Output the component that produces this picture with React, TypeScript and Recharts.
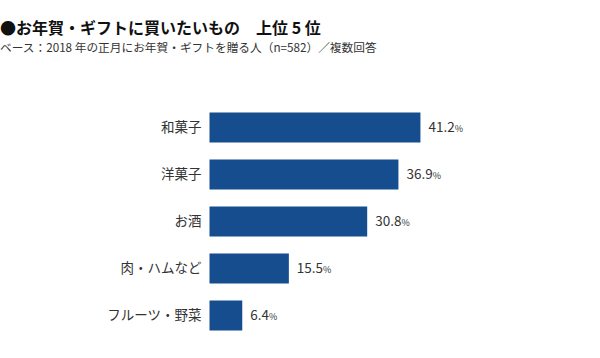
import { BarChart, Bar, XAxis, YAxis, LabelList } from "recharts";

const categories = ["和菓子", "洋菓子", "お酒", "肉・ハムなど", "フルーツ・野菜"];
const shares = [41.2, 36.9, 30.8, 15.5, 6.4];

const title = "●お年賀・ギフトに買いたいもの　上位 5 位";
const subtitle = "ベース：2018 年の正月にお年賀・ギフトを贈る人（n=582）／複数回答";

const data = categories.map((name, i) => ({ name, value: shares[i] }));

const FONT = '"Noto Sans CJK JP", "Noto Sans", sans-serif';

// value + small percent sign to the right of each bar
const ValueLabel = (props: any) => {
  const { x, y, width, height, value } = props;
  return (
    <text
      x={x + width + 8}
      y={y + height / 2}
      dy="0.35em"
      fontFamily={FONT}
      fontSize={13.5}
      fill="#333"
    >
      {value.toFixed(1)}
      <tspan fontSize={9}>%</tspan>
    </text>
  );
};

export default function App() {
  return (
    <div
      style={{
        position: "absolute",
        left: 0,
        top: 0,
        width: 600,
        height: 358,
        background: "#fff",
        fontFamily: FONT,
      }}
    >
      <div
        style={{
          position: "absolute",
          left: 0,
          top: 20,
          fontSize: 16,
          fontWeight: 700,
          color: "#111",
          whiteSpace: "nowrap",
          lineHeight: "14px",
        }}
      >
        {title}
      </div>
      <div
        style={{
          position: "absolute",
          left: 0,
          top: 41,
          fontSize: 11.7,
          color: "#333",
          whiteSpace: "nowrap",
          lineHeight: "12px",
        }}
      >
        {subtitle}
      </div>
      <BarChart
        width={600}
        height={358}
        data={data}
        layout="vertical"
        margin={{ top: 103.5, right: 134.5, bottom: 19.5, left: 0 }}
        barSize={30}
        style={{ position: "absolute", left: 0, top: 0 }}
      >
        <XAxis type="number" domain={[0, 50]} hide />
        <YAxis
          type="category"
          dataKey="name"
          width={209.5}
          axisLine={false}
          tickLine={false}
          tick={{ fontSize: 13.5, fill: "#333", fontFamily: FONT }}
        />
        <Bar dataKey="value" fill="#154d8e" isAnimationActive={false}>
          <LabelList dataKey="value" content={ValueLabel} />
        </Bar>
      </BarChart>
    </div>
  );
}
